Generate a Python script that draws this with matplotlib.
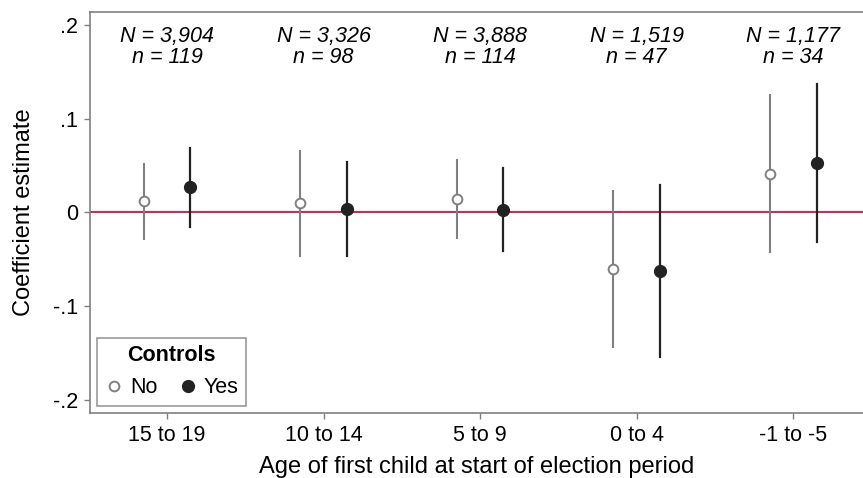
import matplotlib
matplotlib.use("Agg")
import matplotlib.pyplot as plt
from matplotlib.lines import Line2D

plt.rcParams['font.family'] = ['Liberation Sans', 'DejaVu Sans']

categories = ["15 to 19", "10 to 14", "5 to 9", "0 to 4", "-1 to -5"]
no_est = [0.012, 0.0104, 0.0146, -0.0606, 0.041]
no_lo = [-0.028, -0.046, -0.027, -0.144, -0.0424]
no_hi = [0.052, 0.066, 0.0556, 0.0225, 0.125]
yes_est = [0.0267, 0.0034, 0.003, -0.0624, 0.053]
yes_lo = [-0.0157, -0.047, -0.041, -0.1547, -0.031]
yes_hi = [0.0688, 0.054, 0.047, 0.0296, 0.1366]
big_n = ["3,904", "3,326", "3,888", "1,519", "1,177"]
small_n = ["119", "98", "114", "47", "34"]
yticks = [0.2, 0.1, 0.0, -0.1, -0.2]
yticklabels = [".2", ".1", "0", "-.1", "-.2"]

W, H = 863, 478
fig = plt.figure(figsize=(W / 100, H / 100), dpi=100)
ax = fig.add_axes([90 / W, 1 - 413 / H, (863 - 90) / W, (413 - 12) / H])

gray = "#808080"
dark = "#222222"
off = 0.15
xs = list(range(1, len(categories) + 1))

ax.axhline(0, color="#d4103c", lw=1.3, zorder=1)

for i, x in enumerate(xs):
    ax.plot([x - off, x - off], [no_lo[i], no_hi[i]], color=gray, lw=1.5, zorder=2)
    ax.plot([x + off, x + off], [yes_lo[i], yes_hi[i]], color=dark, lw=1.6, zorder=2)
ax.plot([x - off for x in xs], no_est, 'o', ms=7, mfc="white", mec=gray, mew=1.4,
        ls='none', zorder=3)
ax.plot([x + off for x in xs], yes_est, 'o', ms=8.5, mfc=dark, mec=dark,
        ls='none', zorder=3)

for i, x in enumerate(xs):
    ax.text(x, 0.1765, f"N = {big_n[i]}\nn = {small_n[i]}", ha="center", va="center",
            style="italic", fontsize=15.5, linespacing=1.0)

ax.set_xlim(0.508, 5.447)
ax.set_ylim(-0.214, 0.2139)
ax.set_xticks(xs)
ax.set_xticklabels(categories, fontsize=15.5)
ax.set_yticks(yticks)
ax.set_yticklabels(yticklabels, fontsize=15.5)
ax.tick_params(direction="out", length=4.5, color=gray, width=1.0, pad=4)
for s in ["left", "top", "bottom"]:
    ax.spines[s].set_color(gray)
    ax.spines[s].set_linewidth(1.2)
ax.spines["right"].set_visible(False)

ax.set_xlabel("Age of first child at start of election period", fontsize=17, labelpad=7)
ax.set_ylabel("Coefficient estimate", fontsize=17, labelpad=13)

handles = [
    Line2D([], [], marker='o', ls='none', ms=7, mfc="white", mec=gray, mew=1.4),
    Line2D([], [], marker='o', ls='none', ms=8.5, mfc=dark, mec=dark),
]
leg = ax.legend(handles, ["No", "Yes"], title="Controls", ncol=2, loc="lower left",
                bbox_to_anchor=(0.009, 0.018), fontsize=15.5,
                title_fontproperties={'weight': 'bold', 'size': 15.5},
                frameon=True, fancybox=False, edgecolor=gray, handletextpad=0.3,
                columnspacing=0.95, handlelength=0.9, borderpad=0.35, borderaxespad=0)
leg.get_frame().set_linewidth(1.2)

fig.savefig("out.png", dpi=100)
